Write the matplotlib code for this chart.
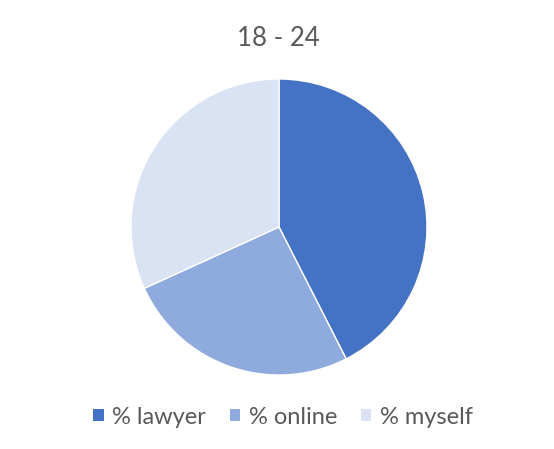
import matplotlib
matplotlib.use("Agg")
import matplotlib.pyplot as plt
from matplotlib.patches import Patch

title = "18 - 24"
categories = ["% lawyer", "% online", "% myself"]
values = [42.5, 25.7, 31.8]
colors = ["#4472C4", "#8FAADC", "#DAE3F3"]

plt.rcParams['font.family'] = ['Lato', 'DejaVu Sans']

W, H = 554, 449
fig = plt.figure(figsize=(W / 100, H / 100), dpi=100)
cx, cy, r = 279, 227, 148
ax = fig.add_axes([(cx - r) / W, (H - cy - r) / H, 2 * r / W, 2 * r / H])
ax.pie(values, colors=colors, startangle=90, counterclock=False,
       wedgeprops=dict(edgecolor="white", linewidth=1.0))
ax.set_aspect("equal")
ax.set_xlim(-1, 1)
ax.set_ylim(-1, 1)

fig.text(278 / W, 1 - 38 / H, title, ha="center", va="center",
         fontsize=18.5, color="#595959")

handles = [Patch(facecolor=c, edgecolor="none") for c in colors]
fig.legend(handles, categories, loc="center", bbox_to_anchor=(283 / W, 1 - 417 / H),
           ncol=3, frameon=False, fontsize=17, labelcolor="#595959",
           handlelength=0.45, handleheight=0.45, handletextpad=0.35, columnspacing=1.0)

fig.savefig("out.png", dpi=100, facecolor="white")
